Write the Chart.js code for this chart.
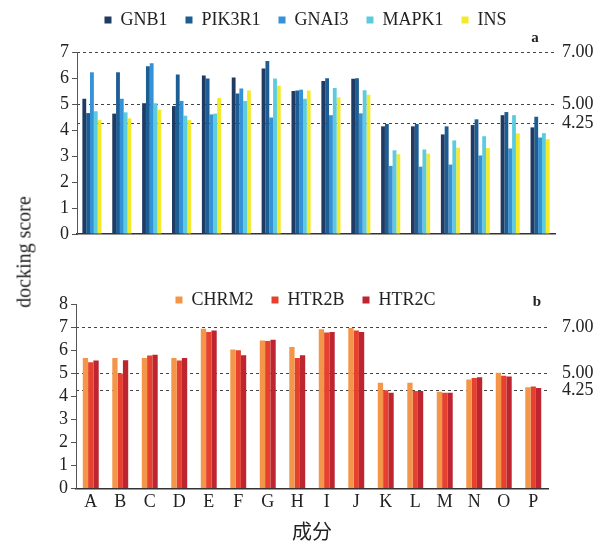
<!DOCTYPE html>
<html>
<head>
<meta charset="utf-8">
<script src="https://cdn.jsdelivr.net/npm/chart.js@4/dist/chart.umd.min.js"></script>
<style>
  body { margin: 0; background: #fff; }
  #wrap { position: relative; width: 611px; height: 546px; }
  #chartA { position: absolute; left: 0; top: 0; }
  #chartB { position: absolute; left: 0; top: 255px; }
  #ytitle {
    position: absolute; left: 24px; top: 252px;
    transform: translate(-50%, -50%) rotate(-90deg);
    font: 20px "Liberation Serif", serif; color: #222; white-space: nowrap;
  }
</style>
</head>
<body>
<div id="wrap">
  <canvas id="chartA" width="611" height="255"></canvas>
  <canvas id="chartB" width="611" height="291"></canvas>
  <div id="ytitle">docking score</div>
</div>
<script>
// data
const categories = ['A','B','C','D','E','F','G','H','I','J','K','L','M','N','O','P'];
const refLines = [4.25, 5, 7];
const yTicksA = [0, 1, 2, 3, 4, 5, 6, 7];
const yTicksB = [0, 1, 2, 3, 4, 5, 6, 7, 8];

const GNB1   = [5.20, 4.63, 5.03, 4.92, 6.10, 6.02, 6.37, 5.50, 5.88, 5.97, 4.14, 4.14, 3.83, 4.19, 4.57, 4.10];
const PIK3R1 = [4.65, 6.22, 6.45, 6.13, 5.98, 5.40, 6.65, 5.52, 5.99, 5.99, 4.23, 4.23, 4.14, 4.41, 4.69, 4.51];
const GNAI3  = [6.22, 5.20, 6.57, 5.12, 4.60, 5.60, 4.48, 5.55, 4.57, 4.64, 2.62, 2.59, 2.67, 3.02, 3.29, 3.71];
const MAPK1  = [4.72, 4.68, 5.03, 4.55, 4.63, 5.12, 5.98, 5.20, 5.62, 5.53, 3.22, 3.25, 3.60, 3.76, 4.57, 3.88];
const INS    = [4.38, 4.45, 4.78, 4.38, 5.23, 5.52, 5.70, 5.52, 5.26, 5.36, 3.07, 3.09, 3.32, 3.31, 3.87, 3.65];

const CHRM2 = [5.66, 5.66, 5.66, 5.66, 6.93, 6.03, 6.42, 6.13, 6.90, 6.96, 4.58, 4.58, 4.19, 4.72, 5.02, 4.39];
const HTR2B = [5.47, 4.98, 5.77, 5.55, 6.79, 5.99, 6.39, 5.66, 6.76, 6.85, 4.26, 4.23, 4.15, 4.79, 4.89, 4.42];
const HTR2C = [5.55, 5.56, 5.80, 5.66, 6.85, 5.78, 6.45, 5.78, 6.79, 6.79, 4.15, 4.23, 4.15, 4.82, 4.86, 4.36];

const serif = '"Liberation Serif", "Times New Roman", serif';
Chart.defaults.font.family = serif;
Chart.defaults.color = '#222';
Chart.defaults.animation = false;

// small letter in the top right corner (a / b)
const panelTag = {
  id: 'panelTag',
  afterDraw(chart, args, opts) {
    const ctx = chart.ctx;
    ctx.save();
    ctx.font = 'bold 15px ' + serif;
    ctx.fillStyle = '#222';
    ctx.textAlign = 'center';
    ctx.textBaseline = 'middle';
    ctx.fillText(opts.text, opts.x, opts.y);
    ctx.restore();
  }
};

// change how much room the legend keeps above the plot,
// but keep its own box full size so the text is not clipped
const legendRoom = {
  id: 'legendRoom',
  afterInit(chart, args, opts) {
    const lg = chart.legend;
    const fit = lg.fit;
    lg.fit = function() {
      fit.bind(lg)();
      lg._fullHeight = lg.height;
      lg.height += opts.extra;
    };
  },
  afterLayout(chart) {
    const lg = chart.legend;
    if (lg && lg._fullHeight) {
      lg.height = lg._fullHeight;
      lg.bottom = lg.top + lg._fullHeight;
    }
  }
};

function makeOptions(max, yTicks, catPct, leftW, rightW, rightPad, extra) {
  return {
    responsive: false,
    layout: extra.layout,
    plugins: {
      legend: {
        position: 'top',
        labels: { boxWidth: 7, boxHeight: 7, padding: 18, font: { size: 18 }, color: '#222' }
      },
      legendRoom: { extra: extra.room },
      tooltip: { enabled: false },
      panelTag: extra.tag
    },
    scales: {
      x: {
        offset: true,
        grid: { display: false, drawTicks: false },
        border: { display: true, color: '#333', width: 1.5 },
        ticks: extra.xticks,
        title: extra.xtitle
      },
      y: {
        min: 0, max: max,
        afterFit(s) { s.width = leftW; },
        afterBuildTicks(s) { s.ticks = yTicks.map(v => ({ value: v })); },
        ticks: { padding: 3, font: { size: 18 }, color: '#222', autoSkip: false },
        grid: { drawOnChartArea: false, drawTicks: true, tickLength: 5, color: '#555' },
        border: { display: true, color: '#555', width: 1 }
      },
      y2: {
        position: 'right',
        min: 0, max: max,
        afterFit(s) { s.width = rightW; },
        afterBuildTicks(s) { s.ticks = refLines.map(v => ({ value: v })); },
        ticks: { padding: rightPad, font: { size: 18 }, color: '#222', autoSkip: false, callback: v => Number(v).toFixed(2) },
        grid: { drawTicks: false, tickLength: 0, color: '#444', lineWidth: 1 },
        border: { display: false, dash: [3, 3] }
      }
    },
    datasets: { bar: { categoryPercentage: catPct, barPercentage: 1 } }
  };
}

new Chart(document.getElementById('chartA'), {
  type: 'bar',
  data: {
    labels: categories,
    datasets: [
      { label: 'GNB1', data: GNB1, backgroundColor: '#1f3a63' },
      { label: 'PIK3R1', data: PIK3R1, backgroundColor: '#1c5d93' },
      { label: 'GNAI3', data: GNAI3, backgroundColor: '#3592d6' },
      { label: 'MAPK1', data: MAPK1, backgroundColor: '#5ccbe0' },
      { label: 'INS', data: INS, backgroundColor: '#f3ea2c' }
    ]
  },
  options: makeOptions(7, yTicksA, 0.64, 77, 56, 7, {
    layout: { padding: { top: -7, bottom: 21, left: 0, right: 0 } },
    room: 13,
    tag: { text: 'a', x: 535, y: 38 },
    xticks: { display: false },
    xtitle: { display: false }
  }),
  plugins: [panelTag, legendRoom]
});

new Chart(document.getElementById('chartB'), {
  type: 'bar',
  data: {
    labels: categories,
    datasets: [
      { label: 'CHRM2', data: CHRM2, backgroundColor: '#f4964a' },
      { label: 'HTR2B', data: HTR2B, backgroundColor: '#e6402f' },
      { label: 'HTR2C', data: HTR2C, backgroundColor: '#bd2530' }
    ]
  },
  options: makeOptions(8, yTicksB, 0.54, 76, 63, 14, {
    layout: { padding: { top: 18, bottom: 3, left: 0, right: 0 } },
    room: -15,
    tag: { text: 'b', x: 537, y: 47 },
    xticks: { font: { size: 18 }, color: '#222', padding: 3, maxRotation: 0, autoSkip: false },
    xtitle: { display: true, text: '成分', font: { size: 20, family: '"Noto Sans CJK SC", sans-serif' }, color: '#222', padding: { top: 3, bottom: 0 } }
  }),
  plugins: [panelTag, legendRoom]
});
</script>
</body>
</html>
